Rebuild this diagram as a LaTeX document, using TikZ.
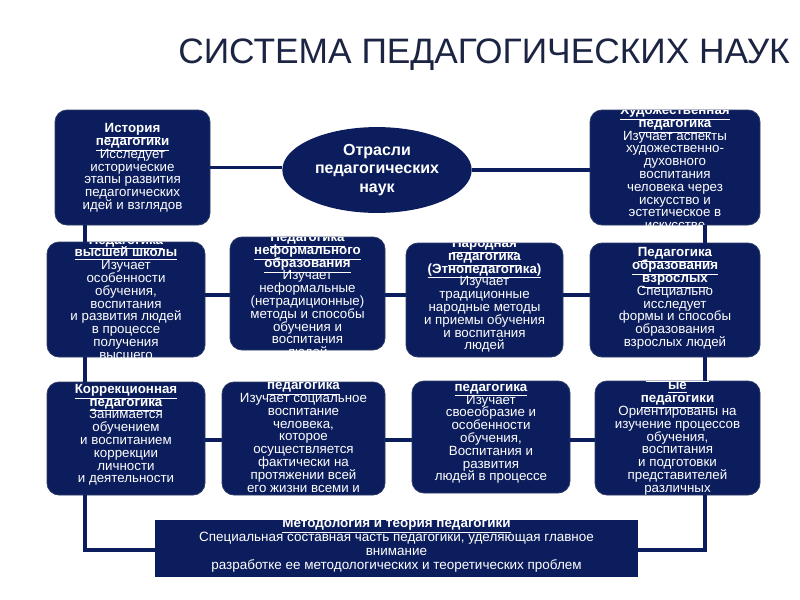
\documentclass[tikz,border=0pt]{standalone}
\usepackage{fontspec}
\setmainfont{Liberation Sans}
\usetikzlibrary{shapes.geometric}
\definecolor{navy}{HTML}{0B1D5C}
\definecolor{titlec}{HTML}{1C2444}
\newcommand\hd[1]{\smash{\textbf{\underline{#1}}}}
\tikzset{
 pb/.style={fill=navy,draw=navy!70!gray,line width=0.6pt,rounded corners=9pt,inner sep=0pt,outer sep=0pt},
 txt/.style={text=white,align=center,font=\fontsize{10}{9.6}\selectfont,inner sep=0pt},
 conn/.style={draw=navy,line width=2.6pt}
}
\newcommand\pbox[7]{%
 \node[pb,minimum width={(#4-#2)*0.75pt},minimum height={(#5-#3)*0.75pt}] (#1) at ({(#2+#4)/2},{(#3+#5)/2}) {};
 \begin{scope}\clip[rounded corners=9pt] (#1.south west) rectangle (#1.north east);
 \node[txt] (#1-t) at ([yshift={-(#6)*0.75pt}]#1.center) {#7};
 \end{scope}}
\begin{document}
\begin{tikzpicture}[x=0.75pt,y=-0.75pt]
\useasboundingbox (0,0) rectangle (800,600);
\fill[white] (0,0) rectangle (800,600);
\node[text=titlec,font=\fontsize{26.5}{28}\selectfont] (title) at (484,55) {СИСТЕМА ПЕДАГОГИЧЕСКИХ НАУК};
\coordinate (xl) at (85,0);
\coordinate (xr) at (705,0);
\coordinate (yr2) at (0,295);
\coordinate (yr3) at (0,440);
\coordinate (ybot) at (0,550);
% boxes
\node[ellipse,fill=navy,minimum width=142pt,minimum height=63pt,text=white,align=center,font=\bfseries\fontsize{12}{14}\selectfont] (ell) at (377,170) {Отрасли\\педагогических\\наук};
\pbox{hist}{55}{110}{210}{225}{5}{\bfseries\hd{История}\\\hd{педагогики}\\Исследует\\исторические\\этапы развития\\педагогических\\идей и взглядов}
\pbox{art}{590}{110}{760}{225}{6}{\bfseries\hd{Художественная}\\\hd{педагогика}\\Изучает аспекты\\художественно-\\духовного\\воспитания\\человека через\\искусство и\\эстетическое в\\искусстве}
\pbox{vys}{47}{242}{205}{357}{10}{\bfseries\hd{Педагогика}\\\hd{высшей школы}\\Изучает\\особенности\\обучения,\\воспитания\\и развития людей\\в процессе\\получения\\высшего\\образования}
\pbox{neform}{230}{237}{385}{350}{7}{\bfseries\hd{Педагогика}\\\hd{неформального}\\\hd{образования}\\Изучает\\неформальные\\(нетрадиционные)\\методы и способы\\обучения и\\воспитания\\людей}
\pbox{narod}{406}{243}{563}{357}{0}{\hd{Народная}\\\hd{педагогика}\\\hd{(Этнопедагогика)}\\Изучает\\традиционные\\народные методы\\и приемы обучения\\и воспитания\\людей}
\pbox{vzros}{590}{243}{760}{357}{3}{\hd{Педагогика}\\\hd{образования}\\\hd{взрослых}\\Специально\\исследует\\формы и способы\\образования\\взрослых людей}
\pbox{korr}{47}{382}{205}{495}{1}{\hd{Коррекционная}\\\hd{педагогика}\\Занимается\\обучением\\и воспитанием\\коррекции\\личности\\и деятельности}
\pbox{soc}{222}{382}{385}{495}{-4}{\hd{Социальная}\\\hd{педагогика}\\Изучает социальное\\воспитание\\человека,\\которое\\осуществляется\\фактически на\\протяжении всей\\его жизни всеми и}
\pbox{shk}{412}{381}{570}{493}{-6}{\hd{Школьная}\\\hd{педагогика}\\Изучает\\своеобразие и\\особенности\\обучения,\\Воспитания и\\развития\\людей в процессе}
\pbox{otr}{595}{381}{760}{495}{-2}{\hd{Отраслев}\\\hd{ые}\\\hd{педагогики}\\Ориентированы на\\изучение процессов\\обучения,\\воспитания\\и подготовки\\представителей\\различных}
% connectors
\draw[conn] (hist.east) -- (hist.east -| ell.west);
\draw[conn] (ell.east) -- (ell.east -| art.west);
\draw[conn] (hist.south -| xl) -- (vys.north -| xl);
\draw[conn] (art.south -| xr) -- (vzros.north -| xr);
\draw[conn] (vys.south -| xl) -- (korr.north -| xl);
\draw[conn] (vzros.south -| xr) -- (otr.north -| xr);
\draw[conn] (vys.east |- yr2) -- (neform.west |- yr2);
\draw[conn] (neform.east |- yr2) -- (narod.west |- yr2);
\draw[conn] (narod.east |- yr2) -- (vzros.west |- yr2);
\draw[conn] (korr.east |- yr3) -- (soc.west |- yr3);
\draw[conn] (soc.east |- yr3) -- (shk.west |- yr3);
\draw[conn] (shk.east |- yr3) -- (otr.west |- yr3);
\node[fill=navy,minimum width=362pt,minimum height=43pt,inner sep=0pt,outer sep=0pt] (bot) at (396.5,548.5) {};
\draw[conn] (korr.south -| xl) -- (ybot -| xl) -- (bot.west |- ybot);
\draw[conn] (otr.south -| xr) -- (ybot -| xr) -- (bot.east |- ybot);
\begin{scope}\clip (bot.south west) rectangle (bot.north east);
\node[txt,font=\fontsize{10.1}{10.5}\selectfont] (bot-t) at ([yshift=-1pt]bot.center) {\hd{Методология и теория педагогики}\\Специальная составная часть педагогики, уделяющая главное\\внимание\\разработке ее методологических и теоретических проблем};
\end{scope}
\end{tikzpicture}
\end{document}
